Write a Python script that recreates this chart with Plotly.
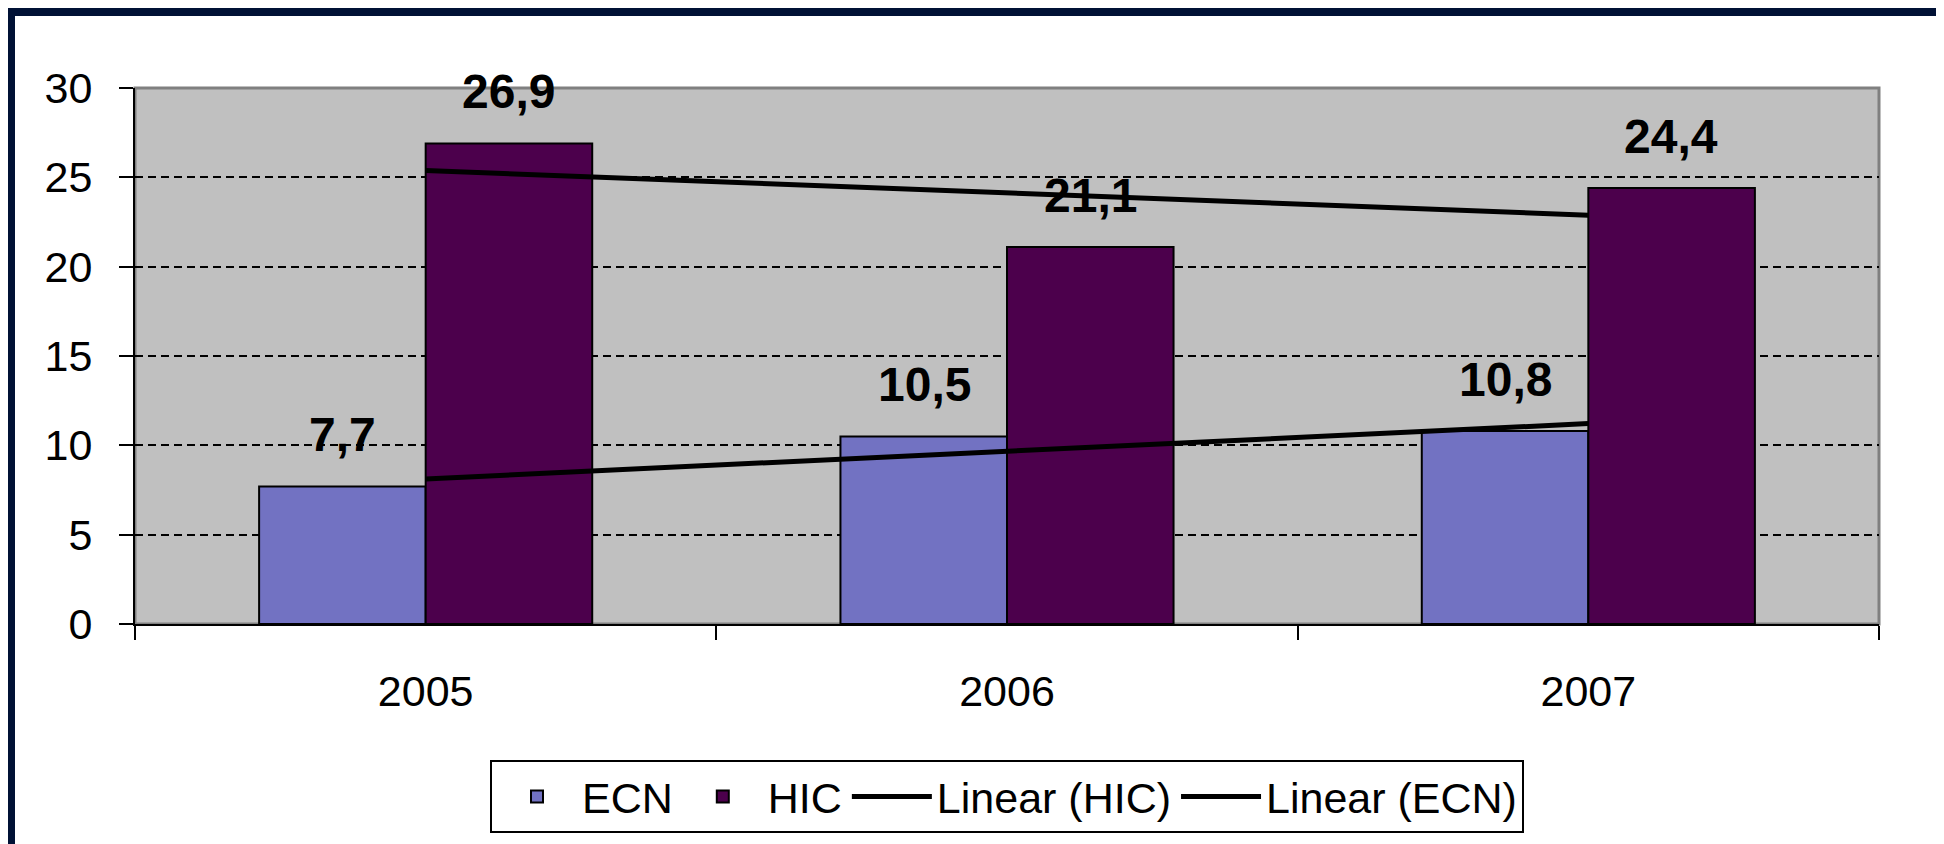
import numpy as np
import plotly.graph_objects as go

years = ["2005", "2006", "2007"]
ecn = [7.7, 10.5, 10.8]
hic = [26.9, 21.1, 24.4]
y_ticks = [0, 5, 10, 15, 20, 25, 30]

FONT = "Liberation Sans, Arial, sans-serif"
NAVY = "#001135"

idx = np.arange(len(years))
hic_fit = np.polyval(np.polyfit(idx, hic, 1), idx)
ecn_fit = np.polyval(np.polyfit(idx, ecn, 1), idx)

fig = go.Figure()
fig.add_trace(go.Bar(name="ECN", x=years, y=ecn,
                     marker=dict(color="#7272C2", line=dict(color="black", width=2))))
fig.add_trace(go.Bar(name="HIC", x=years, y=hic,
                     marker=dict(color="#4C004C", line=dict(color="black", width=2))))
fig.add_trace(go.Scatter(name="Linear (HIC)", x=years, y=hic_fit, mode="lines",
                         line=dict(color="black", width=5)))
fig.add_trace(go.Scatter(name="Linear (ECN)", x=years, y=ecn_fit, mode="lines",
                         line=dict(color="black", width=5)))

annotations = []
for series, shift in ((ecn, -83), (hic, 83)):
    for i, v in enumerate(series):
        # category axis: annotation x given as the category's serial index
        annotations.append(dict(
            x=i, y=v, xref="x", yref="y", xshift=shift, yshift=52,
            text=f"{v:.1f}".replace(".", ","), showarrow=False,
            font=dict(family=FONT, size=48, color="black", weight="bold")))

W, H = 1944, 844
L, R, T, B = 127, 1871, 80, 616
pw, ph = R - L, B - T

shapes = [
    dict(type="rect", xref="paper", yref="paper", x0=0, x1=1, y0=0, y1=1,
         line=dict(color="#808080", width=3), layer="below"),
    dict(type="rect", xref="paper", yref="paper", x0=-1, x1=(7 - L) / pw, y0=-2, y1=3,
         fillcolor=NAVY, line=dict(width=0), layer="above"),
    dict(type="rect", xref="paper", yref="paper", x0=-1, x1=3, y0=(B - 8) / ph, y1=3,
         fillcolor=NAVY, line=dict(width=0), layer="above"),
]

fig.update_layout(
    width=W, height=H,
    margin=dict(l=L, r=W - R, t=T, b=H - B, pad=0),
    paper_bgcolor="white",
    plot_bgcolor="#C0C0C0",
    barmode="group", bargap=0.427, bargroupgap=0,
    separators=", ",
    font=dict(family=FONT, size=43, color="black"),
    showlegend=True,
    legend=dict(orientation="h", x=0.5, xanchor="center", y=(B - 752) / ph, yanchor="top",
                bordercolor="black", borderwidth=2, bgcolor="white",
                font=dict(family=FONT, size=43, color="black"),
                itemwidth=80, tracegroupgap=0),
    annotations=annotations,
    shapes=shapes,
)
fig.update_xaxes(type="category", categoryorder="array", categoryarray=years,
                 range=[-0.5, len(years) - 0.5],
                 showgrid=False, showline=True, linecolor="black", linewidth=2,
                 ticks="outside", tickson="boundaries", ticklen=14, tickcolor="black",
                 tickwidth=2, ticklabelstandoff=28, tickfont=dict(size=43), tickangle=0)
fig.update_yaxes(range=[0, 30], tickvals=y_ticks, showgrid=True, gridcolor="black",
                 griddash="8px,5px", gridwidth=2, zeroline=False,
                 showline=True, linecolor="black", linewidth=2,
                 ticks="outside", ticklen=14, tickcolor="black", tickwidth=2,
                 ticklabelstandoff=18, tickfont=dict(size=43))

fig.write_html("out.html")
